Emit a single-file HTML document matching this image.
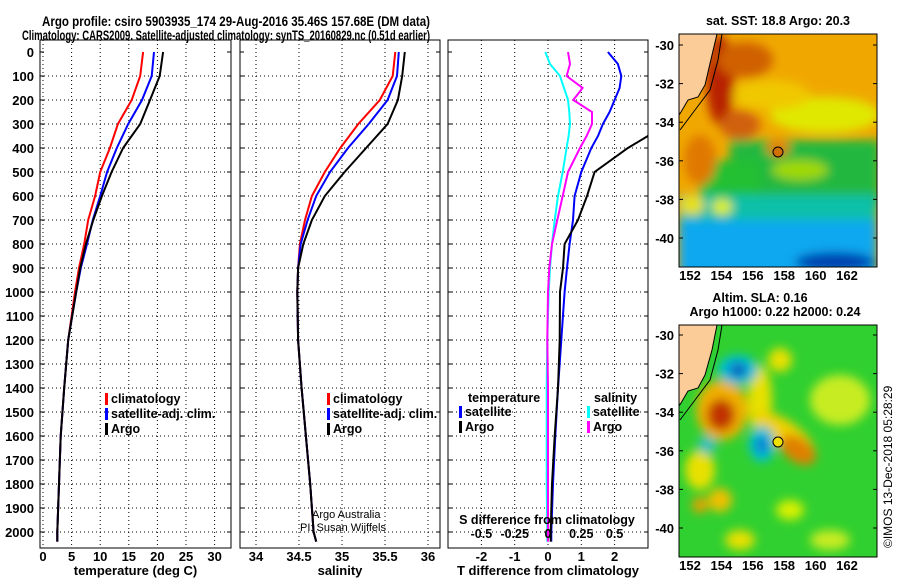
<!DOCTYPE html>
<html><head><meta charset="utf-8"><style>
body{margin:0;background:#fff;}
svg{display:block;font-family:"Liberation Sans",sans-serif;}
.tk{font-size:13px;font-weight:bold;fill:#000;}
.lg{font-size:12.5px;font-weight:bold;fill:#000;}
</style></head><body>
<svg id="chart" width="900" height="580" viewBox="0 0 900 580">
<defs>
<clipPath id="c1"><rect x="40" y="40" width="191" height="508"/></clipPath>
<clipPath id="c2"><rect x="240" y="40" width="200" height="508"/></clipPath>
<clipPath id="c3"><rect x="448" y="40" width="200" height="508"/></clipPath>
<clipPath id="m1"><rect x="679" y="34" width="198" height="233"/></clipPath>
<clipPath id="m2"><rect x="679" y="325" width="198" height="232"/></clipPath>
<filter id="bl" x="-50%" y="-50%" width="200%" height="200%"><feGaussianBlur stdDeviation="5"/></filter>
<filter id="bl2" x="-50%" y="-50%" width="200%" height="200%"><feGaussianBlur stdDeviation="5"/></filter>
</defs>
<text x="42" y="26" textLength="388" lengthAdjust="spacingAndGlyphs" style="font-size:14px;font-weight:bold">Argo profile: csiro 5903935_174 29-Aug-2016 35.46S 157.68E (DM data)</text>
<text x="22" y="40" textLength="408" lengthAdjust="spacingAndGlyphs" style="font-size:14px;font-weight:bold">Climatology: CARS2009. Satellite-adjusted climatology: synTS_20160829.nc (0.51d earlier)</text>
<g id="panels"></g>
<g id="maps">
 <text x="778" y="25" text-anchor="middle" class="lg">sat. SST: 18.8 Argo: 20.3</text>
 <g clip-path="url(#m1)">
  <rect x="679" y="34" width="198" height="233" fill="#f0a800"/>
  <g filter="url(#bl)">
   <rect x="730" y="140" width="150" height="65" fill="#20b840"/>
   <rect x="700" y="160" width="60" height="45" fill="#20c030"/>
   <rect x="679" y="195" width="198" height="80" fill="#10c0a8"/>
   <rect x="679" y="220" width="198" height="60" fill="#10a8f0"/>
   <ellipse cx="835" cy="262" rx="40" ry="10" fill="#0040b0"/>
   <ellipse cx="825" cy="115" rx="55" ry="18" fill="#e0e800"/>
   <ellipse cx="770" cy="95" rx="40" ry="15" fill="#f0c800"/>
   <ellipse cx="800" cy="170" rx="28" ry="10" fill="#a0d800"/>
   <ellipse cx="720" cy="80" rx="14" ry="45" fill="#b82000"/>
   <ellipse cx="745" cy="60" rx="28" ry="18" fill="#d06000"/>
   <ellipse cx="740" cy="125" rx="20" ry="15" fill="#d06010"/>
   <ellipse cx="700" cy="160" rx="16" ry="25" fill="#e07800"/>
   <ellipse cx="692" cy="205" rx="12" ry="10" fill="#e8e000"/>
   <ellipse cx="722" cy="207" rx="10" ry="8" fill="#e0f000"/>
   <ellipse cx="778" cy="148" rx="12" ry="8" fill="#e08000"/>
  </g>
  <polygon points="679,34 717,34 712,55 705,85 698,97 688,100 681,112 679,112" fill="#fccc98"/>
  <polyline points="717,34 712,55 705,85 698,97 688,100 681,112 679,115" fill="none" stroke="#000" stroke-width="1"/>
  <polyline points="722,34 718,60 710,90 695,110 680,130" fill="none" stroke="#000" stroke-width="1"/>
  <circle cx="778" cy="152" r="5" fill="#d07000" stroke="#000"/>
 </g>
 <rect x="679" y="34" width="198" height="233" fill="none" stroke="#000"/>
 <text x="760" y="302" text-anchor="middle" class="lg">Altim. SLA: 0.16</text>
 <text x="775" y="316" text-anchor="middle" class="lg">Argo h1000: 0.22 h2000: 0.24</text>
 <g clip-path="url(#m2)">
  <rect x="679" y="325" width="198" height="232" fill="#30d030"/>
  <g filter="url(#bl2)">
   <ellipse cx="840" cy="400" rx="30" ry="25" fill="#c8ec20"/>
   <ellipse cx="700" cy="470" rx="15" ry="20" fill="#e8e000"/>
   <ellipse cx="720" cy="500" rx="12" ry="12" fill="#f0c000"/>
   <ellipse cx="700" cy="505" rx="8" ry="8" fill="#e8a000"/>
   <ellipse cx="760" cy="400" rx="12" ry="35" fill="#e8e000"/>
   <ellipse cx="785" cy="435" rx="35" ry="14" fill="#f0d000" transform="rotate(35 785 435)"/>
   <ellipse cx="798" cy="450" rx="20" ry="12" fill="#e08000" transform="rotate(35 798 450)"/>
   <ellipse cx="722" cy="410" rx="26" ry="30" fill="#f0b000"/>
   <ellipse cx="721" cy="415" rx="14" ry="16" fill="#c03000"/>
   <ellipse cx="738" cy="370" rx="20" ry="15" fill="#00c0d8"/>
   <ellipse cx="738" cy="370" rx="9" ry="8" fill="#1060c0"/>
   <ellipse cx="762" cy="444" rx="13" ry="18" fill="#00c0d8"/>
   <ellipse cx="762" cy="445" rx="6" ry="8" fill="#1070d0"/>
   <ellipse cx="707" cy="445" rx="9" ry="9" fill="#20c0c0"/>
   <ellipse cx="780" cy="360" rx="12" ry="12" fill="#e8e000"/>
   <ellipse cx="740" cy="540" rx="15" ry="10" fill="#e8e000"/>
   <ellipse cx="830" cy="540" rx="20" ry="10" fill="#c8ec20"/>
   <ellipse cx="790" cy="510" rx="14" ry="10" fill="#d8f000"/>
  </g>
  <polygon points="679,325 717,325 712,350 705,375 698,388 688,391 681,403 679,403" fill="#fccc98"/>
  <polyline points="717,325 712,350 705,375 698,388 688,391 681,403 679,406" fill="none" stroke="#000"/>
  <polyline points="722,325 718,350 710,380 695,400 680,420" fill="none" stroke="#000"/>
  <circle cx="778" cy="442" r="5" fill="#f0e000" stroke="#000"/>
 </g>
 <rect x="679" y="325" width="198" height="232" fill="none" stroke="#000"/>
 <text transform="translate(892,548) rotate(-90)" style="font-size:12px">©IMOS 13-Dec-2018 05:28:29</text>
</g>
</svg>
<script>
const depths=[0,100,200,300,400,500,600,700,800,900,1000,1200,1400,1600,1800,2000,2040];
const tempArgo=[21.0,20.4,18.7,17.0,14.0,12.0,10.3,8.8,7.5,6.5,5.8,4.4,3.7,3.1,2.8,2.5,2.5];
const tempClim=[17.5,17.0,15.5,13.1,11.7,10.0,9.1,7.9,7.2,6.3,5.6,4.4,3.7,3.1,2.8,2.5,2.5];
const tempSat=[19.4,19.0,17.3,14.9,12.9,11.2,10.0,8.7,7.7,6.6,5.8,4.4,3.7,3.1,2.8,2.5,2.5];
const salArgo=[35.73,35.70,35.65,35.53,35.28,35.03,34.80,34.65,34.55,34.49,34.48,34.49,34.53,34.58,34.63,34.67,34.70];
const salClim=[35.62,35.59,35.44,35.19,34.98,34.80,34.65,34.57,34.51,34.49,34.48,34.49,34.53,34.58,34.63,34.67,34.70];
const salSat=[35.66,35.64,35.53,35.31,35.07,34.86,34.70,34.60,34.52,34.49,34.48,34.49,34.53,34.58,34.63,34.67,34.70];
const diffDepths=[0,50,100,150,200,250,300,350,400,500,600,700,800,900,1000,1200,1400,1600,1800,2000,2040];
const tdiffArgo=[3.5,3.6,3.5,3.5,3.4,3.3,3.2,3.0,2.4,1.4,1.17,0.9,0.5,0.45,0.36,0.35,0.3,0.2,0.12,0.08,0.08];
const tdiffSat=[1.8,2.1,2.2,2.15,2.0,1.85,1.65,1.5,1.3,1.0,0.8,0.75,0.65,0.57,0.5,0.4,0.3,0.22,0.15,0.1,0.1];
const sdiffSat=[-0.02,0.015,0.09,0.12,0.15,0.16,0.165,0.155,0.14,0.11,0.075,0.05,0.03,0.015,0.005,-0.005,-0.01,-0.01,-0.01,-0.005,-0.005];
const sdiffArgo=[0.15,0.165,0.14,0.26,0.19,0.33,0.33,0.29,0.24,0.15,0.11,0.07,0.03,0.01,0.0,-0.005,0,0,0,0,0];
const depthTicks=[0,100,200,300,400,500,600,700,800,900,1000,1100,1200,1300,1400,1500,1600,1700,1800,1900,2000];
const tempTicks=[0,5,10,15,20,25,30];
const salTicks=[34,34.5,35,35.5,36];
const tdTicks=[-2,-1,0,1,2];
const sdTickLabels=["-0.5","-0.25","0","0.25","0.5"];
const sdTicks=[-0.5,-0.25,0,0.25,0.5];

const NS='http://www.w3.org/2000/svg';
const root=document.getElementById('panels');
function el(tag,attrs,parent){const e=document.createElementNS(NS,tag);for(const k in attrs)e.setAttribute(k,attrs[k]);(parent||root).appendChild(e);return e;}
const yD=d=>52+d*0.24;
const xT=t=>43+t*5.72;
const xS=s=>256+(s-34)*86;
const xTD=t=>548+t*33.3;
const xSD=s=>548+s*133.2;

function panel(x0,w,name,xticks,xf,labels,title,clip){
  const g=el('g',{});
  
  
  depthTicks.forEach(d=>{if(d>0){const l=el('line',{x1:x0,x2:x0+w,y1:yD(d),y2:yD(d),stroke:'#000','stroke-dasharray':'1 3'},g);}
    const tk=el('line',{x1:x0,x2:x0+4,y1:yD(d),y2:yD(d),stroke:'#000'},g);
    const tk2=el('line',{x1:x0+w-4,x2:x0+w,y1:yD(d),y2:yD(d),stroke:'#000'},g);});
  xticks.forEach((v,i)=>{const X=xf(v);
    const l=el('line',{x1:X,x2:X,y1:40,y2:548,stroke:'#000','stroke-dasharray':'1 3'},g);
    const t=el('text',{x:X,y:561,'text-anchor':'middle',class:'tk'},g);t.textContent=labels[i];});
  const r=el('rect',{x:x0,y:40,width:w,height:508,fill:'none',stroke:'#000'},g);
  const t=el('text',{x:x0+w/2,y:575,'text-anchor':'middle',class:'tk'},g);t.textContent=title;
  const lines=el('g',{'clip-path':'url(#'+clip+')'},g);
  return lines;
}
function series(g,vals,dep,xf,color,name){
  const p=el('polyline',{points:vals.map((v,i)=>xf(v).toFixed(1)+','+yD(dep[i]).toFixed(1)).join(' '),fill:'none',stroke:color,'stroke-width':2},g);
  
  
}
function legend(x,y,items){
  items.forEach((it,i)=>{
    const b=el('rect',{x:x,y:y+i*15-10,width:3,height:12,fill:it[1]});
    
    
    const t=el('text',{x:x+6,y:y+i*15,class:'lg'});t.textContent=it[0];
    
    
  });
}
depthTicks.forEach(d=>{const t=el('text',{x:34,y:yD(d)+5,'text-anchor':'end',class:'tk'});t.textContent=d;
  
  });

const g1=panel(40,191,'temperature-panel',tempTicks,xT,tempTicks.map(String),'temperature (deg C)','c1');
series(g1,tempClim,depths,xT,'#ff0000','temp-climatology-line');
series(g1,tempSat,depths,xT,'#0000ff','temp-satellite-line');
series(g1,tempArgo,depths,xT,'#000000','temp-argo-line');
legend(105,403,[['climatology','#ff0000'],['satellite-adj. clim.','#0000ff'],['Argo','#000']]);

const g2=panel(240,200,'salinity-panel',salTicks,xS,['34','34.5','35','35.5','36'],'salinity','c2');
series(g2,salClim,depths,xS,'#ff0000','sal-climatology-line');
series(g2,salSat,depths,xS,'#0000ff','sal-satellite-line');
series(g2,salArgo,depths,xS,'#000000','sal-argo-line');
legend(327,403,[['climatology','#ff0000'],['satellite-adj. clim.','#0000ff'],['Argo','#000']]);
const a1=el('text',{x:312,y:518,style:'font-size:11px'});a1.textContent='Argo Australia';
const a2=el('text',{x:300,y:531,style:'font-size:11px'});a2.textContent='PI: Susan Wijffels';

const g3=panel(448,200,'difference-panel',tdTicks,xTD,tdTicks.map(String),'T difference from climatology','c3');
series(g3,sdiffSat,diffDepths,xSD,'#00ffff','sdiff-satellite-line');
series(g3,sdiffArgo,diffDepths,xSD,'#ff00ff','sdiff-argo-line');
series(g3,tdiffSat,diffDepths,xTD,'#0000ff','tdiff-satellite-line');
series(g3,tdiffArgo,diffDepths,xTD,'#000000','tdiff-argo-line');
const lt=el('text',{x:468,y:402,class:'lg'});lt.textContent='temperature';
const ls=el('text',{x:594,y:402,class:'lg'});ls.textContent='salinity';
legend(459,416,[['satellite','#0000ff'],['Argo','#000']]);
legend(587,416,[['satellite','#00ffff'],['Argo','#ff00ff']]);
const st=el('text',{x:547,y:524,'text-anchor':'middle',class:'lg'});st.textContent='S difference from climatology';
sdTicks.forEach((v,i)=>{const t=el('text',{x:xSD(v),y:538,'text-anchor':'middle',class:'lg'});t.textContent=sdTickLabels[i];});

const lonTicks=[152,154,156,158,160,162];
const latTicks=[-30,-32,-34,-36,-38,-40];
const mapsG=document.getElementById('maps');
[[45,267],[335,557]].forEach((m,mi)=>{
  latTicks.forEach(v=>{const y=m[0]+(-30-v)*19.3;
    const t=el('text',{x:674,y:y+5,'text-anchor':'end',class:'tk'},mapsG);t.textContent=v;
    
    el('line',{x1:679,x2:683,y1:y,y2:y,stroke:'#000'},mapsG);el('line',{x1:873,x2:877,y1:y,y2:y,stroke:'#000'},mapsG);});
  lonTicks.forEach(v=>{const x=690+(v-152)*15.7;
    const t=el('text',{x:x,y:m[1]+13,'text-anchor':'middle',class:'tk'},mapsG);t.textContent=v;
    });
});
</script>
</body></html>
